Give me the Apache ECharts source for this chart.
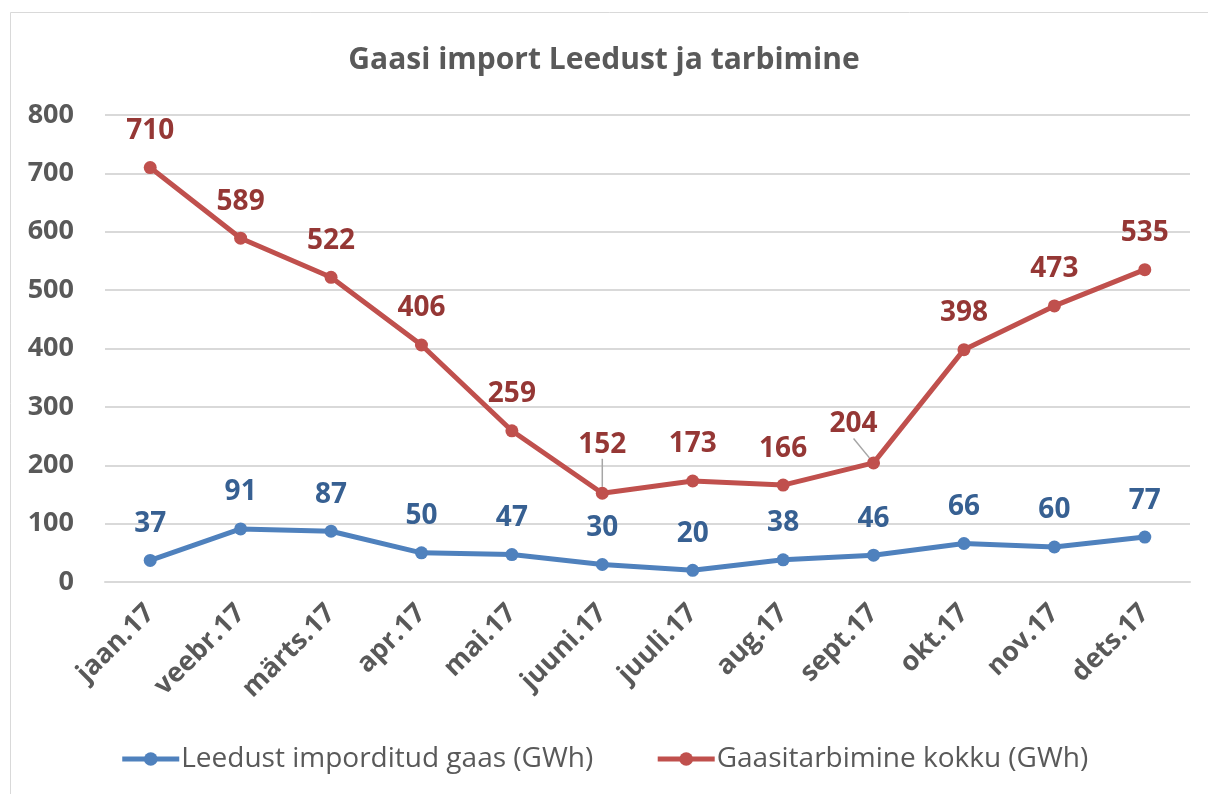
<!DOCTYPE html>
<html><head><meta charset="utf-8">
<script src="https://cdn.jsdelivr.net/npm/echarts@6/dist/echarts.min.js"></script>
<style>html,body{margin:0;padding:0;background:#fff}#c{width:1208px;height:794px}</style>
</head><body><div id="c"></div>
<script>
const categories = ['jaan.17','veebr.17','märts.17','apr.17','mai.17','juuni.17','juuli.17','aug.17','sept.17','okt.17','nov.17','dets.17'];
const importLeedust = [37, 91, 87, 50, 47, 30, 20, 38, 46, 66, 60, 77];
const tarbimine = [710, 589, 522, 406, 259, 152, 173, 166, 204, 398, 473, 535];
const seriesNames = ['Leedust imporditud gaas (GWh)', 'Gaasitarbimine kokku (GWh)'];
const yTicks = [0, 100, 200, 300, 400, 500, 600, 700, 800];

const FONT = '"Open Sans", Lato, sans-serif';
const leaderIdx = [5, 8];
const redData = tarbimine.map((v, i) => leaderIdx.includes(i)
  ? {value: v, labelLine: {show: true, lineStyle: {color: '#a6a6a6', width: 1.5}}}
  : v);

const chart = echarts.init(document.getElementById('c'));
chart.setOption({
  animation: false,
  backgroundColor: '#fff',
  graphic: [{type:'rect', shape:{x:10.5, y:12.5, width:1220, height:820}, style:{fill:'none', stroke:'#d9d9d9', lineWidth:1}}],
  title: {text: 'Gaasi import Leedust ja tarbimine', left: 'center', top: 40,
    textStyle: {fontFamily: FONT, fontSize: 30, fontWeight: 'bold', color: '#595959'}},
  legend: {bottom: 16, left: 'center', itemWidth: 57, itemHeight: 17, itemGap: 62,
    lineStyle: {width: 5},
    textStyle: {fontFamily: FONT, fontSize: 28, color: '#595959', padding: [0,0,0,-3]}, data: seriesNames},
  grid: {left: 105, right: 18, top: 115, bottom: 212, containLabel: false},
  xAxis: {type: 'category', data: categories, boundaryGap: true,
    axisLine: {show: true, lineStyle: {color: '#d9d9d9', width: 2}}, axisTick: {show: false},
    axisLabel: {rotate: 45, margin: 27, fontFamily: FONT, fontSize: 27, fontWeight: 'bold', color: '#595959'}},
  yAxis: {type: 'value', min: yTicks[0], max: yTicks[yTicks.length-1], interval: 100,
    axisLine: {show: false}, axisTick: {show: false},
    splitLine: {lineStyle: {color: '#d9d9d9', width: 2}},
    axisLabel: {margin: 31, fontFamily: FONT, fontSize: 27, fontWeight: 'bold', color: '#595959'}},
  series: [
    {name: seriesNames[0], type: 'line', data: importLeedust, symbol: 'circle', symbolSize: 13,
      lineStyle: {width: 5, color: '#4F81BD'}, itemStyle: {color: '#4F81BD'},
      label: {show: true, position: 'top', distance: 16, fontFamily: FONT, fontSize: 28, fontWeight: 'bold', color: '#376092'}},
    {name: seriesNames[1], type: 'line', data: redData, symbol: 'circle', symbolSize: 13,
      lineStyle: {width: 5, color: '#C0504D'}, itemStyle: {color: '#C0504D'},
      label: {show: true, position: 'top', distance: 16, fontFamily: FONT, fontSize: 28, fontWeight: 'bold', color: '#953735'},
      labelLine: {show: false, lineStyle: {color: '#a6a6a6', width: 1.5}},
      labelLayout: function (p) {
        if (p.dataIndex === 5) return {dy: -12};
        if (p.dataIndex === 8) return {dx: -20, dy: -2};
        return {};
      }}
  ]
});
</script></body></html>
